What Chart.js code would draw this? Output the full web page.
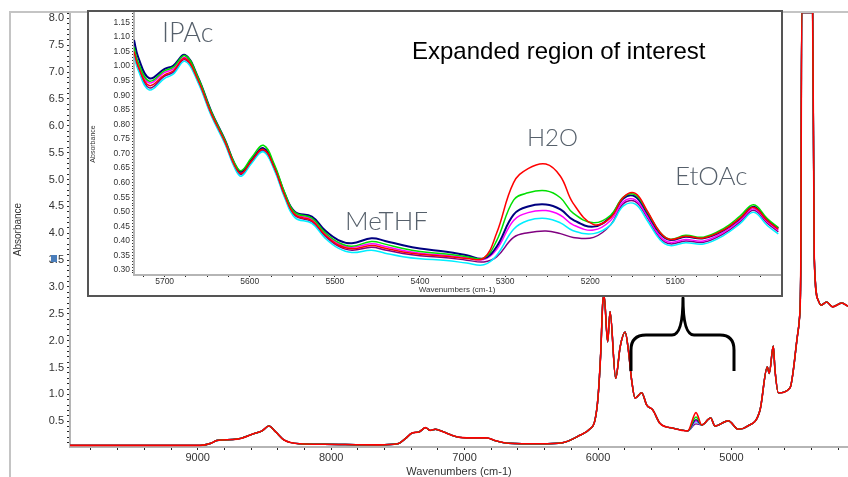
<!DOCTYPE html>
<html>
<head>
<meta charset="utf-8">
<script src="https://cdn.jsdelivr.net/npm/chart.js@4/dist/chart.umd.min.js"></script>
<style>
  html, body { margin: 0; padding: 0; background: #fff; }
  #wrap { position: relative; width: 848px; height: 477px; overflow: hidden; }
  #main { position: absolute; left: 0; top: 0; }
  #insetBox { position: absolute; left: 87px; top: 10px; width: 696px; height: 287px;
    border: 2px solid #555; box-sizing: border-box; background: #fff; }
  #inset { position: absolute; left: 0; top: 0; }
  .lbl { position: absolute; white-space: nowrap; line-height: 1; }
  .cmp { font-family: Lato, 'Open Sans', sans-serif; font-weight: 300; color: #56606b; }
  .hdr { font-family: 'Liberation Sans', Arial, sans-serif; color: #000; font-size: 24px; }
</style>
</head>
<body>
<div id="wrap">
  <canvas id="main" width="848" height="477"></canvas>
  <div id="insetBox">
    <canvas id="inset" width="692" height="283"></canvas>
  </div>
  <div class="lbl cmp" style="left:162px;top:18px;font-size:27px">IPAc</div>
  <div class="lbl hdr" style="left:412px;top:39px">Expanded region of interest</div>
  <div class="lbl cmp" style="left:527px;top:125px;font-size:24px">H2O</div>
  <div class="lbl cmp" style="left:345px;top:207px;font-size:26px">MeTHF</div>
  <div class="lbl cmp" style="left:675px;top:162px;font-size:26px">EtOAc</div>
</div>
<script>
// full spectrum (main plot)
const mainWn = [9957, 9500, 8983, 8900, 8858, 8738, 8678, 8578, 8518, 8467, 8415, 8353, 8233, 8050,
  7644, 7503, 7442, 7394, 7342, 7292, 7259, 7219, 7158, 7097, 7037, 6915, 6834, 6773, 6672, 6429,
  6267, 6135, 6064, 6023, 6000, 5980, 5965, 5955, 5928, 5910, 5868, 5834, 5797, 5773, 5748, 5723,
  5673, 5635, 5590, 5536, 5438, 5328, 5266, 5223, 5156, 5124, 5024, 4949, 4886, 4786, 4732, 4717,
  4687, 4674, 4649, 4562, 4507, 4492, 4481, 4474, 4392, 4380, 4350, 4329, 4287, 4242, 4174, 4127];
const mainAbs = [0.05, 0.05, 0.05, 0.09, 0.14, 0.16, 0.18, 0.27, 0.32, 0.41, 0.30, 0.15, 0.08, 0.07,
  0.06, 0.08, 0.18, 0.28, 0.30, 0.38, 0.33, 0.35, 0.30, 0.24, 0.20, 0.19, 0.19, 0.14, 0.09, 0.08,
  0.10, 0.24, 0.35, 0.52, 0.95, 1.77, 2.70, 2.85, 1.98, 2.54, 1.30, 1.89, 2.16, 1.83, 1.26, 0.93,
  1.03, 0.80, 0.71, 0.46, 0.37, 0.32, 0.66, 0.43, 0.56, 0.41, 0.51, 0.35, 0.40, 0.71, 1.51, 1.39,
  1.90, 1.45, 1.03, 1.12, 2.07, 2.38, 3.30, 8.11, 8.11, 3.56, 2.75, 2.66, 2.72, 2.63, 2.70, 2.64];
// water band height in the main plot, one per sample (same order as seriesNames)
const mainH2OWn = 5266;
const mainH2OPeak = [0.66, 0.58, 0.53, 0.51, 0.49, 0.45];

const seriesNames = ['red', 'green', 'navy', 'magenta', 'cyan', 'purple'];
const seriesColors = ['#ff0000', '#00e000', '#000080', '#ff00ff', '#00eeff', '#800080'];

// expanded region (inset)
const insetWn = [5736, 5731, 5718, 5700, 5690, 5676, 5661, 5645, 5629, 5618, 5610, 5598, 5584, 5571,
  5559, 5547, 5527, 5512, 5496, 5480, 5457, 5441, 5420, 5400, 5369, 5345, 5325, 5310, 5290, 5273,
  5252, 5235, 5220, 5196, 5176, 5161, 5147, 5133, 5118, 5106, 5088, 5067, 5043, 5024, 5008, 4992, 4979];
const insetRed = [1.050, 0.998, 0.933, 0.970, 0.983, 1.026, 0.953, 0.835, 0.739, 0.660, 0.631, 0.674,
  0.714, 0.650, 0.556, 0.490, 0.470, 0.422, 0.386, 0.373, 0.384, 0.375, 0.362, 0.354, 0.347, 0.340,
  0.341, 0.426, 0.600, 0.648, 0.664, 0.622, 0.529, 0.456, 0.480, 0.550, 0.563, 0.503, 0.430, 0.405, 0.416,
  0.410, 0.438, 0.478, 0.515, 0.470, 0.440];
const insetGreen = [1.065, 1.012, 0.948, 0.984, 0.996, 1.036, 0.962, 0.842, 0.745, 0.668, 0.641, 0.685,
  0.728, 0.662, 0.566, 0.498, 0.478, 0.430, 0.395, 0.382, 0.398, 0.389, 0.374, 0.364, 0.355, 0.346,
  0.341, 0.400, 0.540, 0.565, 0.572, 0.548, 0.495, 0.462, 0.488, 0.550, 0.558, 0.500, 0.430, 0.406, 0.419,
  0.413, 0.443, 0.485, 0.524, 0.477, 0.446];
const insetNavy = [1.089, 1.030, 0.958, 0.990, 1.001, 1.038, 0.963, 0.843, 0.746, 0.666, 0.637, 0.678,
  0.718, 0.655, 0.563, 0.500, 0.483, 0.437, 0.403, 0.392, 0.409, 0.400, 0.385, 0.374, 0.363, 0.351,
  0.340, 0.380, 0.490, 0.518, 0.525, 0.508, 0.472, 0.449, 0.483, 0.546, 0.552, 0.495, 0.426, 0.403, 0.414,
  0.409, 0.437, 0.477, 0.517, 0.472, 0.443];
const insetMagenta = [1.058, 1.005, 0.942, 0.978, 0.990, 1.030, 0.957, 0.838, 0.742, 0.663, 0.634, 0.676,
  0.716, 0.652, 0.559, 0.494, 0.474, 0.426, 0.391, 0.378, 0.390, 0.381, 0.367, 0.358, 0.350, 0.342,
  0.336, 0.370, 0.470, 0.497, 0.504, 0.488, 0.455, 0.437, 0.470, 0.535, 0.541, 0.485, 0.416, 0.395, 0.405,
  0.400, 0.430, 0.470, 0.510, 0.466, 0.436];
const insetCyan = [1.038, 0.985, 0.918, 0.958, 0.972, 1.016, 0.945, 0.828, 0.732, 0.652, 0.622, 0.666,
  0.706, 0.642, 0.548, 0.480, 0.460, 0.411, 0.375, 0.360, 0.368, 0.358, 0.346, 0.339, 0.333, 0.324,
  0.318, 0.350, 0.440, 0.470, 0.477, 0.462, 0.435, 0.425, 0.455, 0.520, 0.526, 0.470, 0.404, 0.384, 0.394,
  0.389, 0.419, 0.459, 0.498, 0.453, 0.424];
const insetPurple = [1.045, 0.992, 0.925, 0.965, 0.978, 1.022, 0.950, 0.832, 0.736, 0.657, 0.628, 0.671,
  0.711, 0.647, 0.553, 0.487, 0.466, 0.418, 0.382, 0.368, 0.378, 0.369, 0.357, 0.349, 0.342, 0.334,
  0.328, 0.345, 0.412, 0.428, 0.434, 0.425, 0.412, 0.412, 0.455, 0.528, 0.535, 0.480, 0.410, 0.390, 0.400,
  0.395, 0.425, 0.465, 0.505, 0.461, 0.431];
const insetSeries = [insetRed, insetGreen, insetNavy, insetMagenta, insetCyan, insetPurple];

// tick labels
const mainXTicks = [9000, 8000, 7000, 6000, 5000];
const mainYTicks = [0.5, 1.0, 1.5, 2.0, 2.5, 3.0, 3.5, 4.0, 4.5, 5.0, 5.5, 6.0, 6.5, 7.0, 7.5, 8.0];
const insetXTicks = [5700, 5600, 5500, 5400, 5300, 5200, 5100];
const insetYTicks = [0.30, 0.35, 0.40, 0.45, 0.50, 0.55, 0.60, 0.65, 0.70, 0.75, 0.80, 0.85, 0.90,
  0.95, 1.00, 1.05, 1.10, 1.15];

const FONT = "'Liberation Sans', Arial, sans-serif";

function stepTicks(from, to, step) {
  const out = [];
  const n = Math.round((to - from) / step);
  for (let i = 0; i <= n; i++) out.push({ value: +(from + i * step).toFixed(4) });
  return out;
}
function labelFrom(list, digits) {
  return v => {
    const m = list.find(t => Math.abs(t - v) < 1e-6);
    return m === undefined ? '' : m.toFixed(digits);
  };
}

const h2oIdx = mainWn.indexOf(mainH2OWn);
const mainDatasets = seriesNames.map((name, k) => ({
  label: name,
  data: mainWn.map((w, i) => ({ x: w, y: i === h2oIdx ? mainH2OPeak[k] : mainAbs[i] })),
  borderColor: seriesColors[k],
  borderWidth: k === 0 ? 1.6 : 1.4,
  pointRadius: 0,
  cubicInterpolationMode: 'monotone'
}));

const framePlugin = {
  id: 'frame',
  afterDraw(chart) {
    const ctx = chart.ctx;
    const a = chart.chartArea;
    ctx.save();
    // outer gray frame (left and top)
    ctx.strokeStyle = '#c4c4c4';
    ctx.lineWidth = 2;
    ctx.beginPath();
    ctx.moveTo(10, 477);
    ctx.lineTo(10, a.top);
    ctx.lineTo(848, a.top);
    ctx.stroke();
    // small marker on the y labels
    ctx.fillStyle = '#4a7ebb';
    ctx.fillRect(51, 255, 6, 7);
    // brace under the inset
    ctx.strokeStyle = '#000';
    ctx.lineWidth = 3;
    ctx.lineJoin = 'round';
    ctx.beginPath();
    ctx.moveTo(631, 371);
    ctx.lineTo(631, 350);
    ctx.quadraticCurveTo(631, 335, 646, 335);
    ctx.lineTo(672, 335);
    ctx.quadraticCurveTo(683, 335, 683, 298);
    ctx.quadraticCurveTo(683, 335, 694, 335);
    ctx.lineTo(720, 335);
    ctx.quadraticCurveTo(734, 335, 734, 350);
    ctx.lineTo(734, 371);
    ctx.stroke();
    ctx.restore();
  }
};

new Chart(document.getElementById('main').getContext('2d'), {
  type: 'line',
  data: { datasets: mainDatasets },
  options: {
    responsive: false,
    animation: false,
    parsing: false,
    layout: { padding: { top: 12, right: 0, left: 0, bottom: 0 } },
    plugins: { legend: { display: false }, tooltip: { enabled: false } },
    scales: {
      x: {
        type: 'linear', reverse: true, min: 4127, max: 9957,
        afterBuildTicks: s => { s.ticks = stepTicks(4200, 9800, 200); },
        afterFit: s => { s.height = 30; s.paddingLeft = 0; s.paddingRight = 0; },
        grid: { drawOnChartArea: false, tickLength: 3, color: '#222', lineWidth: 1 },
        border: { color: '#b5b5b5', width: 2 },
        ticks: { autoSkip: false, maxRotation: 0, padding: 1, color: '#333',
          font: { family: FONT, size: 11 }, callback: labelFrom(mainXTicks, 0) },
        title: { display: true, text: 'Wavenumbers (cm-1)', color: '#333',
          font: { family: FONT, size: 11, lineHeight: 1 }, padding: { top: 0, bottom: 0 } }
      },
      y: {
        type: 'linear', min: 0.02, max: 8.12,
        afterBuildTicks: s => { s.ticks = stepTicks(0.1, 8.1, 0.1); },
        afterFit: s => { s.width = 70; s.paddingTop = 0; s.paddingBottom = 0; },
        grid: { drawOnChartArea: false, tickLength: 3, color: '#222', lineWidth: 1 },
        border: { color: '#b5b5b5', width: 2 },
        ticks: { autoSkip: false, padding: 3, color: '#333',
          font: { family: FONT, size: 11 }, callback: labelFrom(mainYTicks, 1) },
        title: { display: true, text: 'Absorbance', color: '#333',
          font: { family: FONT, size: 10, lineHeight: 1.2 }, padding: { top: 12, bottom: 0 } }
      }
    }
  },
  plugins: [framePlugin]
});

new Chart(document.getElementById('inset').getContext('2d'), {
  type: 'line',
  data: {
    datasets: insetSeries.map((vals, k) => ({
      label: seriesNames[k],
      data: insetWn.map((w, i) => ({ x: w, y: vals[i] })),
      borderColor: seriesColors[k],
      borderWidth: seriesNames[k] === 'navy' ? 2 : 1.5,
      pointRadius: 0,
      tension: 0.4
    }))
  },
  options: {
    responsive: false,
    animation: false,
    parsing: false,
    layout: { padding: { top: 1, right: 1, left: 0, bottom: 0 } },
    plugins: { legend: { display: false }, tooltip: { enabled: false } },
    scales: {
      x: {
        type: 'linear', reverse: true, min: 4977, max: 5736,
        afterBuildTicks: s => { s.ticks = stepTicks(5000, 5725, 25); },
        afterFit: s => { s.height = 20; s.paddingLeft = 0; s.paddingRight = 0; },
        grid: { drawOnChartArea: false, tickLength: 2, color: '#222', lineWidth: 1 },
        border: { color: '#b5b5b5', width: 2 },
        ticks: { autoSkip: false, maxRotation: 0, padding: 0, color: '#333',
          font: { family: FONT, size: 8.5 }, callback: labelFrom(insetXTicks, 0) },
        title: { display: true, text: 'Wavenumbers (cm-1)', color: '#333',
          font: { family: FONT, size: 8, lineHeight: 1 }, padding: { top: 0, bottom: 1 } }
      },
      y: {
        type: 'linear', min: 0.283, max: 1.182,
        afterBuildTicks: s => { s.ticks = stepTicks(0.29, 1.18, 0.01); },
        afterFit: s => { s.width = 45; s.paddingTop = 0; s.paddingBottom = 0; },
        grid: { drawOnChartArea: false, tickLength: 2, color: '#333', lineWidth: 1 },
        border: { color: '#b5b5b5', width: 2 },
        ticks: { autoSkip: false, padding: 2, color: '#333',
          font: { family: FONT, size: 8.5 }, callback: labelFrom(insetYTicks, 2) },
        title: { display: true, text: 'Absorbance', color: '#333',
          font: { family: FONT, size: 7, lineHeight: 1 }, padding: { top: 0.5, bottom: 0 } }
      }
    }
  }
});
</script>
</body>
</html>
